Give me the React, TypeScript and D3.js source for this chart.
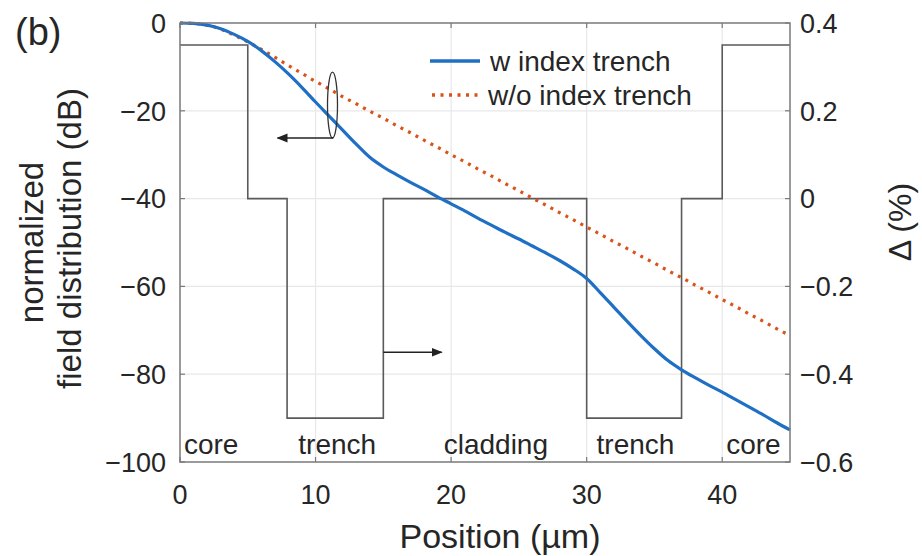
import React from 'react';
import * as d3 from 'd3';

// position along the fibre cross-section (µm)
const positions = [
  0, 1, 2, 3, 4, 5, 6, 7, 8, 9, 10, 11, 12, 13, 14, 15, 16, 17, 18, 19, 20, 21, 22,
  23, 24, 25, 26, 27, 28, 29, 30, 31, 32, 33, 34, 35, 36, 37, 38, 39, 40, 41, 42, 43, 44, 45,
];

// normalized field (dB), with index trench
const withTrench = [
  0, -0.1, -0.5, -1.3, -2.6, -4.2, -6.3, -8.8, -11.6, -14.7, -18.0, -21.2, -24.4, -27.6,
  -30.6, -32.8, -34.6, -36.3, -37.9, -39.6, -41.2, -42.8, -44.5, -46.1, -47.7, -49.2,
  -50.8, -52.4, -54.1, -56.0, -58.2, -61.4, -64.7, -68.0, -71.2, -74.2, -76.9, -79.0,
  -80.8, -82.5, -84.1, -85.8, -87.5, -89.2, -91.0, -92.7,
];

// normalized field (dB), without index trench
const withoutTrench = [
  0, -0.1, -0.5, -1.4, -2.8, -4.3, -6.0, -7.8, -9.7, -11.5, -13.3, -15.0, -16.8, -18.4,
  -20.1, -21.7, -23.4, -25.0, -26.7, -28.3, -30.0, -31.6, -33.3, -34.9, -36.6, -38.2,
  -39.9, -41.5, -43.2, -44.8, -46.5, -48.1, -49.8, -51.4, -53.1, -54.7, -56.4, -58.0,
  -59.7, -61.3, -63.0, -64.6, -66.3, -67.9, -69.6, -71.2,
];

// refractive index profile (step edges and Δ %)
const profileEdges = [0, 5, 7.9, 15, 30, 37, 40, 45];
const profileDelta = [0.35, 0, -0.5, 0, -0.5, 0, 0.35, 0.35];

const regionLabels = ['core', 'trench', 'cladding', 'trench', 'core'];
const regionCenters = [2.3, 11.6, 23.3, 33.6, 42.3];

const xTicks = [0, 10, 20, 30, 40];
const yTicks = [0, -20, -40, -60, -80, -100];
const deltaTicks = [0.4, 0.2, 0, -0.2, -0.4, -0.6];

const seriesNames = ['w index trench', 'w/o index trench'];

const W = 922;
const H = 556;
const margin = { top: 23, right: 132, bottom: 94, left: 180 };
const FONT = '"Liberation Sans", Arial, Helvetica, sans-serif';
const BLUE = '#1f6fc5';
const ORANGE = '#d95319';
const AXIS = '#7a7a7a';
const TEXT = '#262626';

const fmt = (v: number) => (v < 0 ? '\u2212' + String(Math.abs(v)) : String(v));

export default function App() {
  const x = d3.scaleLinear().domain([0, 45]).range([margin.left, W - margin.right]);
  const y = d3.scaleLinear().domain([-100, 0]).range([H - margin.bottom, margin.top]);
  const yd = d3.scaleLinear().domain([-0.6, 0.4]).range([H - margin.bottom, margin.top]);

  const fieldLine = d3
    .line<number>()
    .x((_, i) => x(positions[i]))
    .curve(d3.curveMonotoneX);

  const blueD = fieldLine.y((d) => y(d))(withTrench) || '';
  const orangeD = fieldLine.y((d) => y(d))(withoutTrench) || '';

  const profileD =
    d3
      .line<number>()
      .x((d) => x(d))
      .y((_, i) => yd(profileDelta[i]))
      .curve(d3.curveStepAfter)(profileEdges) || '';

  const x0 = x(0);
  const x1 = x(45);
  const yTop = y(0);
  const yBot = y(-100);

  // annotation positions in data units
  const ell = { cx: x(11.25), cy: y(-18.7), rx: 5, ry: y(-26.2) - y(-18.7) };
  const leftArrow = { from: x(11.3), to: x(7.2), at: y(-26.2) };
  const rightArrow = { from: x(15), to: x(19.3), at: y(-75) };

  return (
    <svg width={W} height={H} style={{ display: 'block', position: 'absolute', left: 0, top: 0 }} fontFamily={FONT}>
      <defs>
        <marker id="ah" viewBox="0 0 10 10" refX="9" refY="5" markerWidth="11" markerHeight="11" markerUnits="userSpaceOnUse" orient="auto">
          <path d="M0,1 L10,5 L0,9 Z" fill="#222" />
        </marker>
      </defs>
      <rect width={W} height={H} fill="#fff" />

      {/* grid */}
      {xTicks.slice(1).map((t) => (
        <line key={'gx' + t} x1={x(t)} x2={x(t)} y1={yTop} y2={yBot} stroke="#e8e8e8" strokeWidth={1.2} />
      ))}
      {yTicks.slice(1, -1).map((t) => (
        <line key={'gy' + t} x1={x0} x2={x1} y1={y(t)} y2={y(t)} stroke="#e8e8e8" strokeWidth={1.2} />
      ))}

      {/* index profile */}
      <path d={profileD} fill="none" stroke="#5a5a5a" strokeWidth={1.6} />

      {/* field curves */}
      <path d={orangeD} fill="none" stroke={ORANGE} strokeWidth={3.2} strokeDasharray="3 5.5" />
      <path d={blueD} fill="none" stroke={BLUE} strokeWidth={3.2} />

      {/* box and ticks */}
      <rect x={x0} y={yTop} width={x1 - x0} height={yBot - yTop} fill="none" stroke={AXIS} strokeWidth={1.5} />
      {xTicks.map((t) => (
        <g key={'tx' + t}>
          <line x1={x(t)} x2={x(t)} y1={yBot} y2={yBot - 5} stroke={AXIS} strokeWidth={1.2} />
          <line x1={x(t)} x2={x(t)} y1={yTop} y2={yTop + 5} stroke={AXIS} strokeWidth={1.2} />
          <text x={x(t)} y={yBot + 42} fontSize={27} fill={TEXT} textAnchor="middle">
            {fmt(t)}
          </text>
        </g>
      ))}
      {yTicks.map((t) => (
        <g key={'ty' + t}>
          <line x1={x0} x2={x0 + 5} y1={y(t)} y2={y(t)} stroke={AXIS} strokeWidth={1.2} />
          <text x={x0 - 14} y={y(t)} dy="0.36em" fontSize={27} fill={TEXT} textAnchor="end">
            {fmt(t)}
          </text>
        </g>
      ))}
      {deltaTicks.map((t) => (
        <g key={'td' + t}>
          <line x1={x1} x2={x1 - 5} y1={yd(t)} y2={yd(t)} stroke={AXIS} strokeWidth={1.2} />
          <text x={x1 + 10} y={yd(t)} dy="0.36em" fontSize={27} fill={TEXT} textAnchor="start">
            {fmt(t)}
          </text>
        </g>
      ))}

      {/* region labels */}
      {regionLabels.map((s, i) => (
        <text key={'r' + i} x={x(regionCenters[i])} y={yBot - 8} fontSize={28} fill={TEXT} textAnchor="middle">
          {s}
        </text>
      ))}

      {/* annotations */}
      <ellipse cx={ell.cx} cy={ell.cy} rx={ell.rx} ry={ell.ry} fill="none" stroke="#333" strokeWidth={1.3} />
      <line x1={leftArrow.from} x2={leftArrow.to} y1={leftArrow.at} y2={leftArrow.at} stroke="#222" strokeWidth={1.5} markerEnd="url(#ah)" />
      <line x1={rightArrow.from} x2={rightArrow.to} y1={rightArrow.at} y2={rightArrow.at} stroke="#222" strokeWidth={1.5} markerEnd="url(#ah)" />

      {/* legend */}
      <line x1={430} x2={480} y1={61} y2={61} stroke={BLUE} strokeWidth={3.5} />
      <text x={490} y={71} fontSize={28} fill={TEXT}>
        {seriesNames[0]}
      </text>
      <line x1={432} x2={482} y1={95} y2={95} stroke={ORANGE} strokeWidth={3.5} strokeDasharray="3 5.5" />
      <text x={488} y={105} fontSize={28} fill={TEXT}>
        {seriesNames[1]}
      </text>

      {/* titles */}
      <text x={15} y={45} fontSize={38} fill={TEXT}>
        (b)
      </text>
      <text x={(x0 + x1) / 2 + 15} y={548} fontSize={34} fill={TEXT} textAnchor="middle">
        Position (µm)
      </text>
      <text transform={`translate(43,${(yTop + yBot) / 2}) rotate(-90)`} fontSize={33} fill={TEXT} textAnchor="middle">
        normalized
      </text>
      <text transform={`translate(81,${(yTop + yBot) / 2 - 4}) rotate(-90)`} fontSize={33} fill={TEXT} textAnchor="middle">
        field distribution (dB)
      </text>
      <text transform={`translate(911,222) rotate(-90)`} fontSize={32} fill={TEXT} textAnchor="middle">
        Δ (%)
      </text>
    </svg>
  );
}
